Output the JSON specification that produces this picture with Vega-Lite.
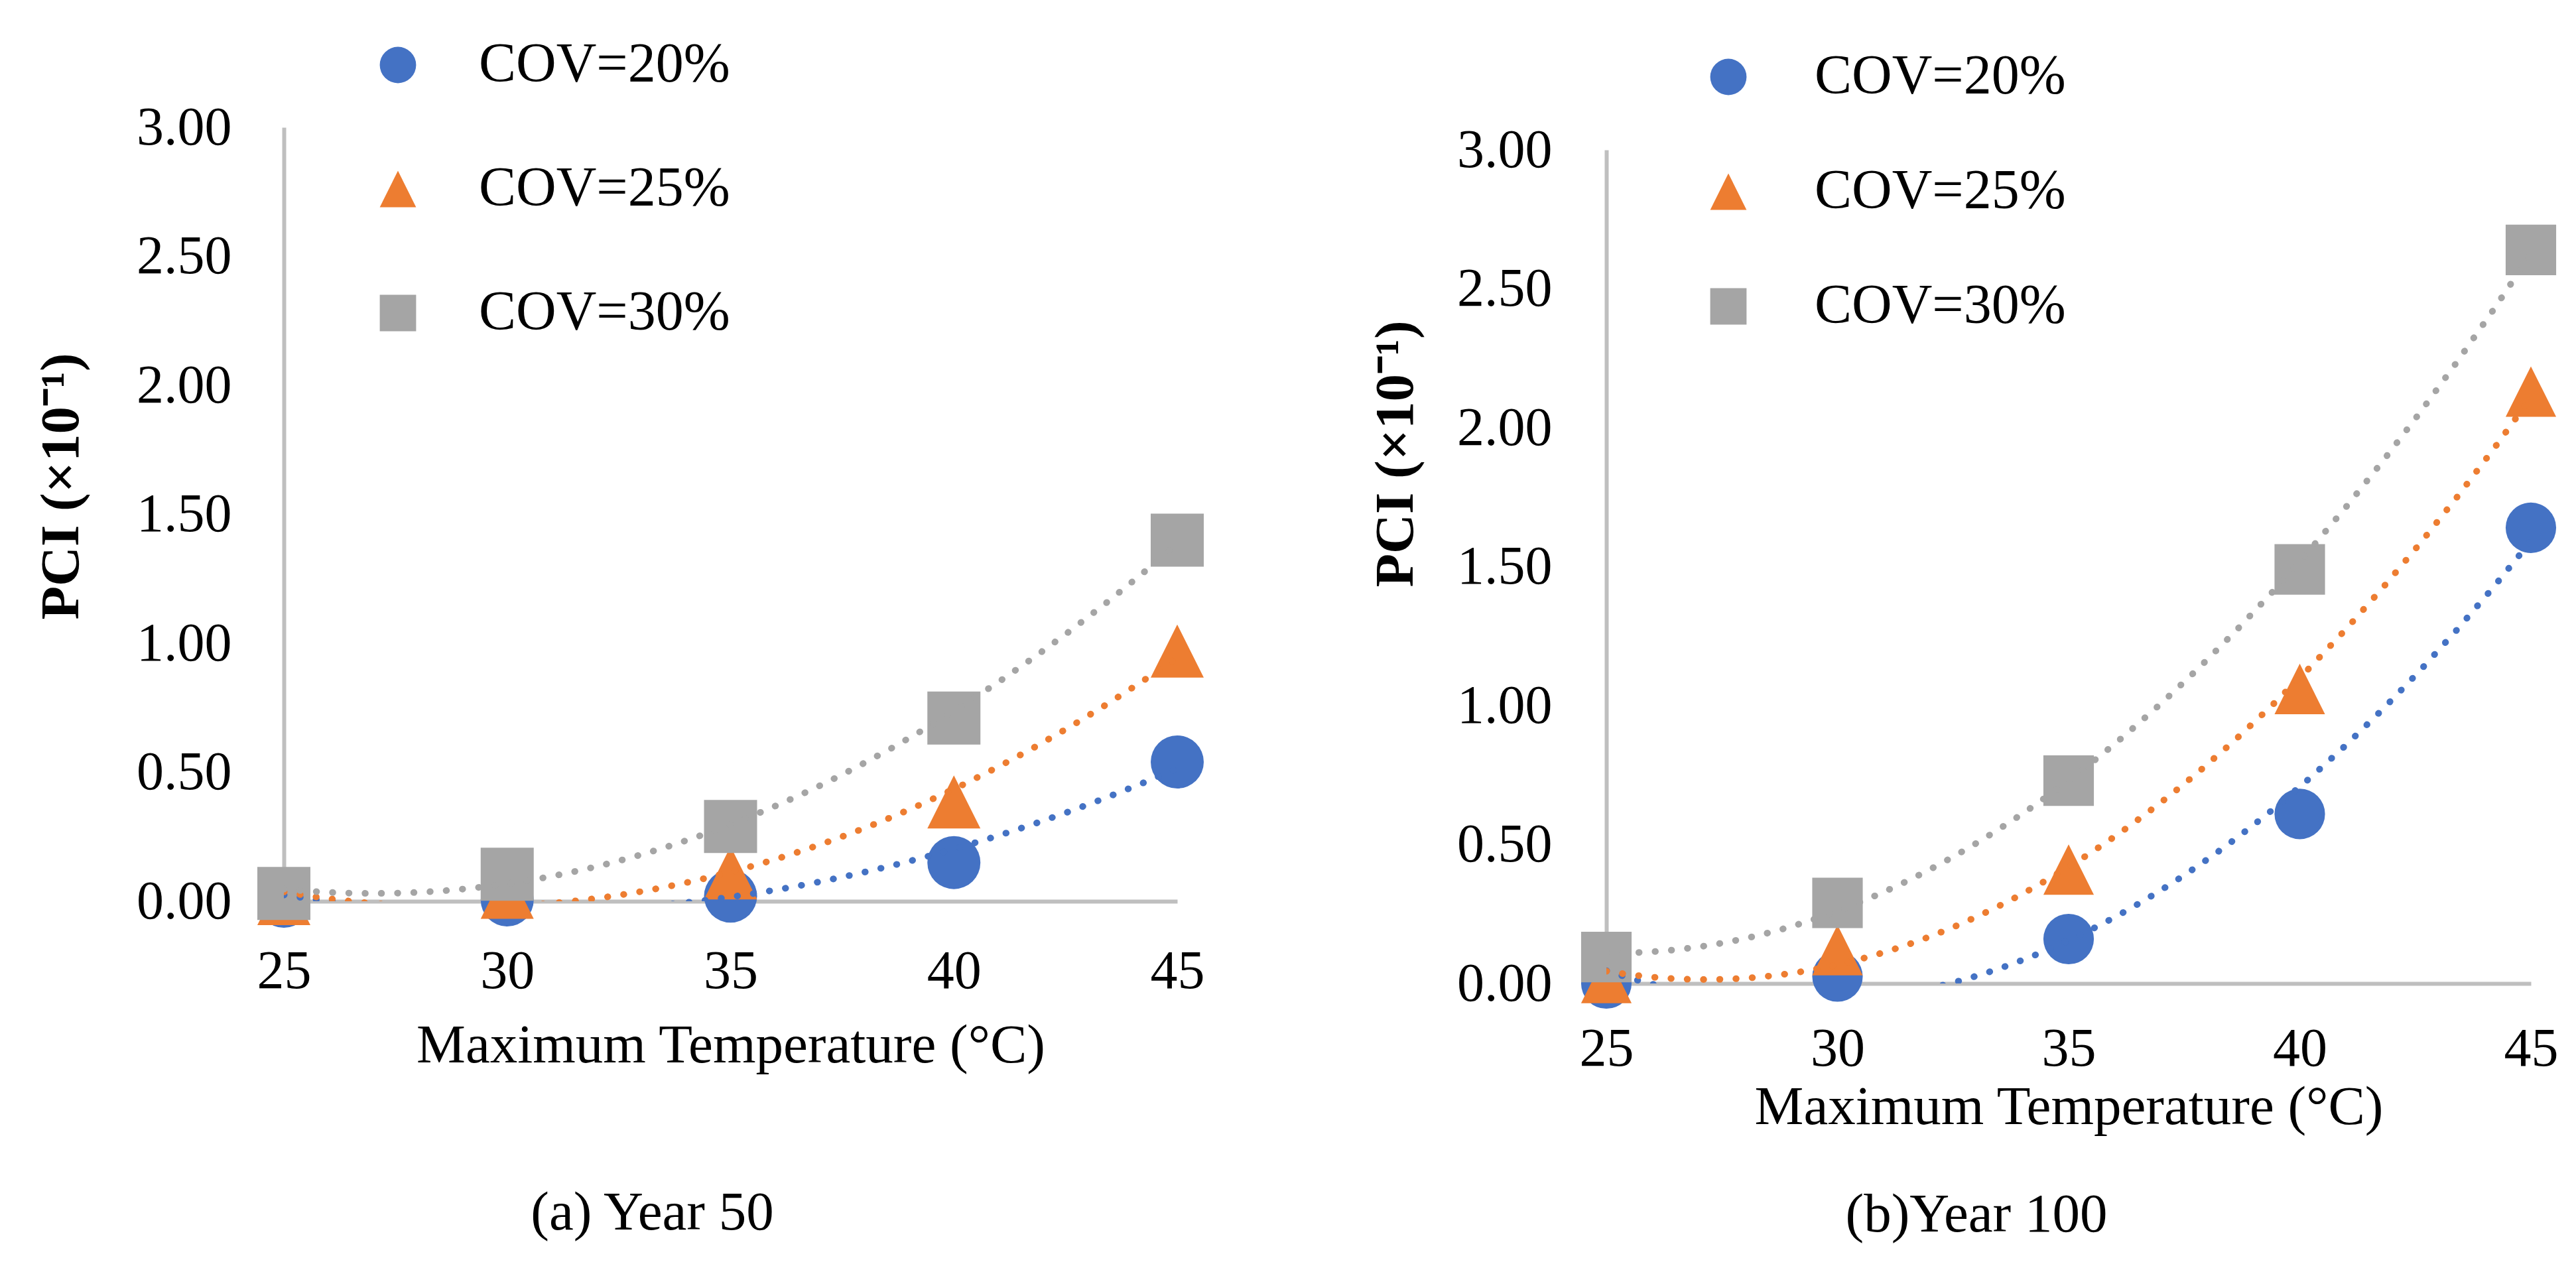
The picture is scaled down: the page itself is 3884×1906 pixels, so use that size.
{
  "$schema": "https://vega.github.io/schema/vega-lite/v6.json",
  "autosize": {"type": "none"},
  "padding": {"left": 428, "top": 192, "right": 3456, "bottom": 1714},
  "background": "white",
  "bounds": "flush",
  "spacing": 647,
  "config": {
    "font": "Liberation Serif",
    "view": {"stroke": null},
    "axis": {
      "grid": false,
      "ticks": false,
      "tickSize": 0,
      "domainColor": "#BFBFBF",
      "domainWidth": 6,
      "labelFont": "Liberation Serif",
      "labelFontSize": 82,
      "labelColor": "black",
      "labelFlush": false,
      "labelOverlap": false,
      "titleFont": "Liberation Serif",
      "titleFontSize": 83,
      "titleColor": "black",
      "titleFontWeight": "normal"
    },
    "legend": {"labelLimit": 2000},
    "title": {"font": "Liberation Serif", "fontSize": 83, "fontWeight": "normal", "color": "black"}
  },
  "resolve": {
    "scale": {"color": "independent", "shape": "independent"},
    "legend": {"color": "independent", "shape": "independent"}
  },
  "datasets": {
    "y50": [
      {"COV": "COV=20%", "temp": 25, "PCI": 0.0},
      {"COV": "COV=20%", "temp": 30, "PCI": 0.005},
      {"COV": "COV=20%", "temp": 35, "PCI": 0.02},
      {"COV": "COV=20%", "temp": 40, "PCI": 0.15},
      {"COV": "COV=20%", "temp": 45, "PCI": 0.54},
      {"COV": "COV=25%", "temp": 25, "PCI": 0.01},
      {"COV": "COV=25%", "temp": 30, "PCI": 0.035},
      {"COV": "COV=25%", "temp": 35, "PCI": 0.11},
      {"COV": "COV=25%", "temp": 40, "PCI": 0.385},
      {"COV": "COV=25%", "temp": 45, "PCI": 0.97},
      {"COV": "COV=30%", "temp": 25, "PCI": 0.03},
      {"COV": "COV=30%", "temp": 30, "PCI": 0.105},
      {"COV": "COV=30%", "temp": 35, "PCI": 0.29},
      {"COV": "COV=30%", "temp": 40, "PCI": 0.71},
      {"COV": "COV=30%", "temp": 45, "PCI": 1.4}
    ],
    "y100": [
      {"COV": "COV=20%", "temp": 25, "PCI": 0.0},
      {"COV": "COV=20%", "temp": 30, "PCI": 0.025},
      {"COV": "COV=20%", "temp": 35, "PCI": 0.16},
      {"COV": "COV=20%", "temp": 40, "PCI": 0.61},
      {"COV": "COV=20%", "temp": 45, "PCI": 1.64},
      {"COV": "COV=25%", "temp": 25, "PCI": 0.02},
      {"COV": "COV=25%", "temp": 30, "PCI": 0.12},
      {"COV": "COV=25%", "temp": 35, "PCI": 0.41},
      {"COV": "COV=25%", "temp": 40, "PCI": 1.06},
      {"COV": "COV=25%", "temp": 45, "PCI": 2.13},
      {"COV": "COV=30%", "temp": 25, "PCI": 0.095},
      {"COV": "COV=30%", "temp": 30, "PCI": 0.29},
      {"COV": "COV=30%", "temp": 35, "PCI": 0.73},
      {"COV": "COV=30%", "temp": 40, "PCI": 1.49},
      {"COV": "COV=30%", "temp": 45, "PCI": 2.64}
    ]
  },
  "hconcat": [
    {
      "width": 1347,
      "height": 1167,
      "data": {"name": "y50"},
      "title": {"text": "(a) Year 50", "orient": "bottom", "anchor": "middle", "dx": -118, "offset": 170},
      "layer": [
        {
          "mark": {"type": "point", "filled": true, "size": 6400, "opacity": 1, "strokeWidth": 0},
          "encoding": {
            "x": {"field": "temp", "type": "quantitative", "scale": {"domain": [25, 45], "nice": false, "zero": false},
              "axis": {"values": [25, 30, 35, 40, 45], "format": "d", "title": "Maximum Temperature (°C)", "labelBaseline": "middle", "labelPadding": 105, "titleY": 217, "titleBaseline": "middle"}},
            "y": {"field": "PCI", "type": "quantitative", "scale": {"domain": [0, 3], "nice": false, "zero": false},
              "axis": {"values": [0, 0.5, 1, 1.5, 2, 2.5, 3], "format": ".2f", "title": "PCI (×10⁻¹)", "titleFontWeight": "bold", "titleX": -336, "titleY": 541, "titleBaseline": "middle", "titleAlign": "center", "titleAngle": -90, "labelPadding": 79}},
            "color": {"field": "COV", "type": "nominal",
              "scale": {"domain": ["COV=20%", "COV=25%", "COV=30%"], "range": ["#4472C4", "#ED7D31", "#A5A5A5"]},
              "legend": {"orient": "none", "legendX": 130, "legendY": -136, "title": null, "symbolSize": 3000, "symbolStrokeWidth": 0, "labelFontSize": 84, "labelFont": "Liberation Serif", "labelColor": "black", "rowPadding": 103, "labelOffset": 80, "padding": 0, "labelLimit": 2000}},
            "shape": {"field": "COV", "type": "nominal",
              "scale": {"domain": ["COV=20%", "COV=25%", "COV=30%"], "range": ["circle", "M0,-1L1,1L-1,1Z", "square"]},
              "legend": {"orient": "none", "legendX": 130, "legendY": -136, "title": null, "symbolSize": 3000, "symbolStrokeWidth": 0, "labelFontSize": 84, "labelFont": "Liberation Serif", "labelColor": "black", "rowPadding": 103, "labelOffset": 80, "padding": 0, "labelLimit": 2000}}
          }
        },
        {
          "transform": [{"regression": "PCI", "on": "temp", "groupby": ["COV"], "method": "quad", "extent": [25, 45]}],
          "mark": {"type": "line", "strokeDash": [0.5, 24], "strokeCap": "round", "strokeWidth": 10, "clip": true},
          "encoding": {
            "x": {"field": "temp", "type": "quantitative"},
            "y": {"field": "PCI", "type": "quantitative"},
            "color": {"field": "COV", "type": "nominal", "legend": null}
          }
        }
      ]
    },
    {
      "width": 1394,
      "height": 1291,
      "data": {"name": "y100"},
      "title": {"text": "(b)Year 100", "orient": "bottom", "anchor": "middle", "dx": -139, "offset": 80},
      "layer": [
        {
          "mark": {"type": "point", "filled": true, "size": 5800, "opacity": 1, "strokeWidth": 0},
          "encoding": {
            "x": {"field": "temp", "type": "quantitative", "scale": {"domain": [25, 45], "nice": false, "zero": false},
              "axis": {"values": [25, 30, 35, 40, 45], "format": "d", "title": "Maximum Temperature (°C)", "labelBaseline": "middle", "labelPadding": 98, "titleY": 186, "titleBaseline": "middle"}},
            "y": {"field": "PCI", "type": "quantitative", "scale": {"domain": [0, 3], "nice": false, "zero": false, "range": [1291, 34]},
              "axis": {"values": [0, 0.5, 1, 1.5, 2, 2.5, 3], "format": ".2f", "title": "PCI (×10⁻¹)", "titleFontWeight": "bold", "titleX": -318, "titleY": 492, "titleBaseline": "middle", "titleAlign": "center", "titleAngle": -90, "labelPadding": 82}},
            "color": {"field": "COV", "type": "nominal",
              "scale": {"domain": ["COV=20%", "COV=25%", "COV=30%"], "range": ["#4472C4", "#ED7D31", "#A5A5A5"]},
              "legend": {"orient": "none", "legendX": 142, "legendY": -118, "title": null, "symbolSize": 3000, "symbolStrokeWidth": 0, "labelFontSize": 84, "labelFont": "Liberation Serif", "labelColor": "black", "rowPadding": 89, "labelOffset": 88, "padding": 0, "labelLimit": 2000}},
            "shape": {"field": "COV", "type": "nominal",
              "scale": {"domain": ["COV=20%", "COV=25%", "COV=30%"], "range": ["circle", "M0,-1L1,1L-1,1Z", "square"]},
              "legend": {"orient": "none", "legendX": 142, "legendY": -118, "title": null, "symbolSize": 3000, "symbolStrokeWidth": 0, "labelFontSize": 84, "labelFont": "Liberation Serif", "labelColor": "black", "rowPadding": 89, "labelOffset": 88, "padding": 0, "labelLimit": 2000}}
          }
        },
        {
          "transform": [{"regression": "PCI", "on": "temp", "groupby": ["COV"], "method": "quad", "extent": [25, 45]}],
          "mark": {"type": "line", "strokeDash": [0.5, 24], "strokeCap": "round", "strokeWidth": 10, "clip": true},
          "encoding": {
            "x": {"field": "temp", "type": "quantitative"},
            "y": {"field": "PCI", "type": "quantitative"},
            "color": {"field": "COV", "type": "nominal", "legend": null}
          }
        }
      ]
    }
  ]
}
